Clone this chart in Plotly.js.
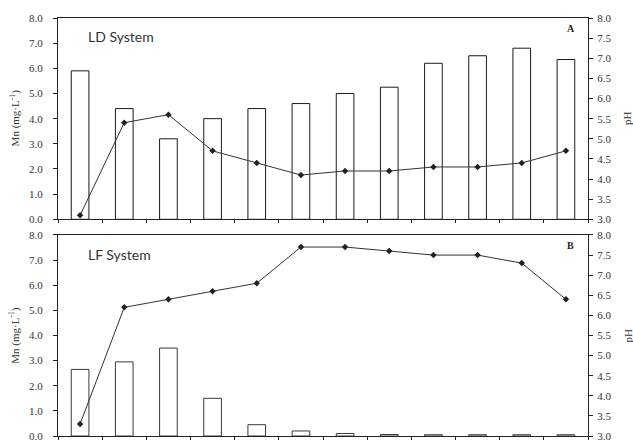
<!DOCTYPE html>
<html>
<head>
<meta charset="utf-8">
<script src="https://cdn.plot.ly/plotly-3.0.1.min.js"></script>
<style>html,body{margin:0;padding:0;background:#fff}#chart{width:633px;height:445px}</style>
</head>
<body>
<div id="chart"></div>
<script>
// Sampling index (no labels shown on the x axis)
var categories = [1, 2, 3, 4, 5, 6, 7, 8, 9, 10, 11, 12];
// Panel A: LD System
var ldMn = [5.9, 4.4, 3.2, 4.0, 4.4, 4.6, 5.0, 5.25, 6.2, 6.5, 6.8, 6.35];
var ldPH = [3.1, 5.4, 5.6, 4.7, 4.4, 4.1, 4.2, 4.2, 4.3, 4.3, 4.4, 4.7];
// Panel B: LF System
var lfMn = [2.65, 2.95, 3.5, 1.5, 0.45, 0.2, 0.1, 0.06, 0.05, 0.05, 0.05, 0.05];
var lfPH = [3.3, 6.2, 6.4, 6.6, 6.8, 7.7, 7.7, 7.6, 7.5, 7.5, 7.3, 6.4];
// Tick labels
var mnTicks = [0, 1, 2, 3, 4, 5, 6, 7, 8];
var phTicks = [3, 3.5, 4, 4.5, 5, 5.5, 6, 6.5, 7, 7.5, 8];
var boundaries = [0.5, 1.5, 2.5, 3.5, 4.5, 5.5, 6.5, 7.5, 8.5, 9.5, 10.5, 11.5, 12.5];

var AX = '#222';
var tickFont = {family: 'Liberation Serif, Times New Roman, serif', size: 11, color: '#333'};

function bar(x, y, xa, ya, lc) {
  return {type: 'bar', x: x, y: y, xaxis: xa, yaxis: ya, width: 0.4,
    marker: {color: '#ffffff', line: {color: lc, width: 1}},
    hoverinfo: 'none', showlegend: false};
}
function line(x, y, xa, ya) {
  return {type: 'scatter', mode: 'lines+markers', x: x, y: y, xaxis: xa, yaxis: ya,
    line: {color: '#333', width: 1},
    marker: {symbol: 'diamond', size: 5, color: '#222'},
    hoverinfo: 'none', showlegend: false};
}

var data = [
  bar(categories, ldMn, 'x', 'y', '#1a1a1a'),
  line(categories, ldPH, 'x', 'y2'),
  bar(categories, lfMn, 'x2', 'y3', '#3a3a3a'),
  line(categories, lfPH, 'x2', 'y4')
];

var topDom = [0.5184, 1];
var botDom = [0, 0.4809];
var xRange = [0.5, 12.5];

function xBase(anchor, mirror) {
  return {domain: [0, 1], anchor: anchor, range: xRange, showgrid: false, zeroline: false,
    showline: true, linecolor: AX, linewidth: 1, mirror: mirror,
    tickmode: 'array', tickvals: boundaries, ticks: 'outside', ticklen: 3, tickcolor: AX,
    showticklabels: false, fixedrange: true};
}
function xOver(over, anchor) {
  return {overlaying: over, anchor: anchor, range: xRange, showgrid: false, zeroline: false,
    showline: false, tickmode: 'array', tickvals: boundaries, ticks: 'inside', ticklen: 3,
    tickcolor: AX, showticklabels: false, fixedrange: true};
}
function yMn(dom, anchor) {
  return {domain: dom, anchor: anchor, range: [0, 8], showgrid: false, zeroline: false,
    showline: true, linecolor: AX, linewidth: 1, tickmode: 'array', tickvals: mnTicks,
    tickformat: '.1f', ticks: 'outside', ticklen: 4, tickcolor: AX, tickfont: tickFont,
    ticklabelstandoff: 8, fixedrange: true};
}
function yPH(over, anchor) {
  return {overlaying: over, anchor: anchor, side: 'right', range: [3, 8], showgrid: false,
    zeroline: false, showline: true, linecolor: AX, linewidth: 1, tickmode: 'array',
    tickvals: phTicks, tickformat: '.1f', ticks: 'outside', ticklen: 4, tickcolor: AX,
    tickfont: tickFont, ticklabelstandoff: 2, fixedrange: true};
}
function yOverIn(over, anchor, side, range, vals) {
  return {overlaying: over, anchor: anchor, side: side, range: range, showgrid: false,
    zeroline: false, showline: false, tickmode: 'array', tickvals: vals, ticks: 'inside',
    ticklen: 3, tickcolor: AX, showticklabels: false, fixedrange: true};
}

var serifTitle = {family: 'Liberation Serif, Times New Roman, serif', size: 11, color: '#333'};
var sysFont = {family: 'Lato, Open Sans, sans-serif', size: 14, color: '#333'};
var tagFont = {family: 'Liberation Serif, Times New Roman, serif', size: 10, color: '#222', weight: 'bold'};

var layout = {
  width: 633, height: 445,
  margin: {l: 58, r: 45, t: 18, b: 9, pad: 0},
  paper_bgcolor: '#fff', plot_bgcolor: 'rgba(0,0,0,0)',
  showlegend: false, bargap: 0,
  xaxis: xBase('y', true),
  xaxis2: xBase('y3', true),
  xaxis3: xOver('x', 'y'),
  xaxis4: xOver('x2', 'y3'),
  yaxis: yMn(topDom, 'x'),
  yaxis2: yPH('y', 'x'),
  yaxis3: yMn(botDom, 'x2'),
  yaxis4: yPH('y3', 'x2'),
  yaxis5: yOverIn('y', 'x', 'left', [0, 8], mnTicks),
  yaxis6: yOverIn('y', 'x', 'right', [3, 8], phTicks),
  yaxis7: yOverIn('y3', 'x2', 'left', [0, 8], mnTicks),
  yaxis8: yOverIn('y3', 'x2', 'right', [3, 8], phTicks),
  annotations: [
    {text: 'LD System', xref: 'paper', yref: 'paper', x: 0.053, y: 0.955, xanchor: 'left', yanchor: 'middle', showarrow: false, font: sysFont},
    {text: 'LF System', xref: 'paper', yref: 'paper', x: 0.053, y: 0.435, xanchor: 'left', yanchor: 'middle', showarrow: false, font: sysFont},
    {text: 'A', xref: 'paper', yref: 'paper', x: 0.967, y: 0.974, xanchor: 'center', yanchor: 'middle', showarrow: false, font: tagFont},
    {text: 'B', xref: 'paper', yref: 'paper', x: 0.967, y: 0.455, xanchor: 'center', yanchor: 'middle', showarrow: false, font: tagFont},
    {text: 'Mn (mg·L<sup>-1</sup>)', xref: 'paper', yref: 'paper', x: -0.081, y: 0.76, xanchor: 'center', yanchor: 'middle', textangle: -90, showarrow: false, font: serifTitle},
    {text: 'Mn (mg·L<sup>-1</sup>)', xref: 'paper', yref: 'paper', x: -0.081, y: 0.24, xanchor: 'center', yanchor: 'middle', textangle: -90, showarrow: false, font: serifTitle},
    {text: 'pH', xref: 'paper', yref: 'paper', x: 1.075, y: 0.76, xanchor: 'center', yanchor: 'middle', textangle: -90, showarrow: false, font: serifTitle},
    {text: 'pH', xref: 'paper', yref: 'paper', x: 1.075, y: 0.24, xanchor: 'center', yanchor: 'middle', textangle: -90, showarrow: false, font: serifTitle}
  ]
};

Plotly.newPlot('chart', data, layout, {staticPlot: true, displayModeBar: false});
</script>
</body>
</html>
